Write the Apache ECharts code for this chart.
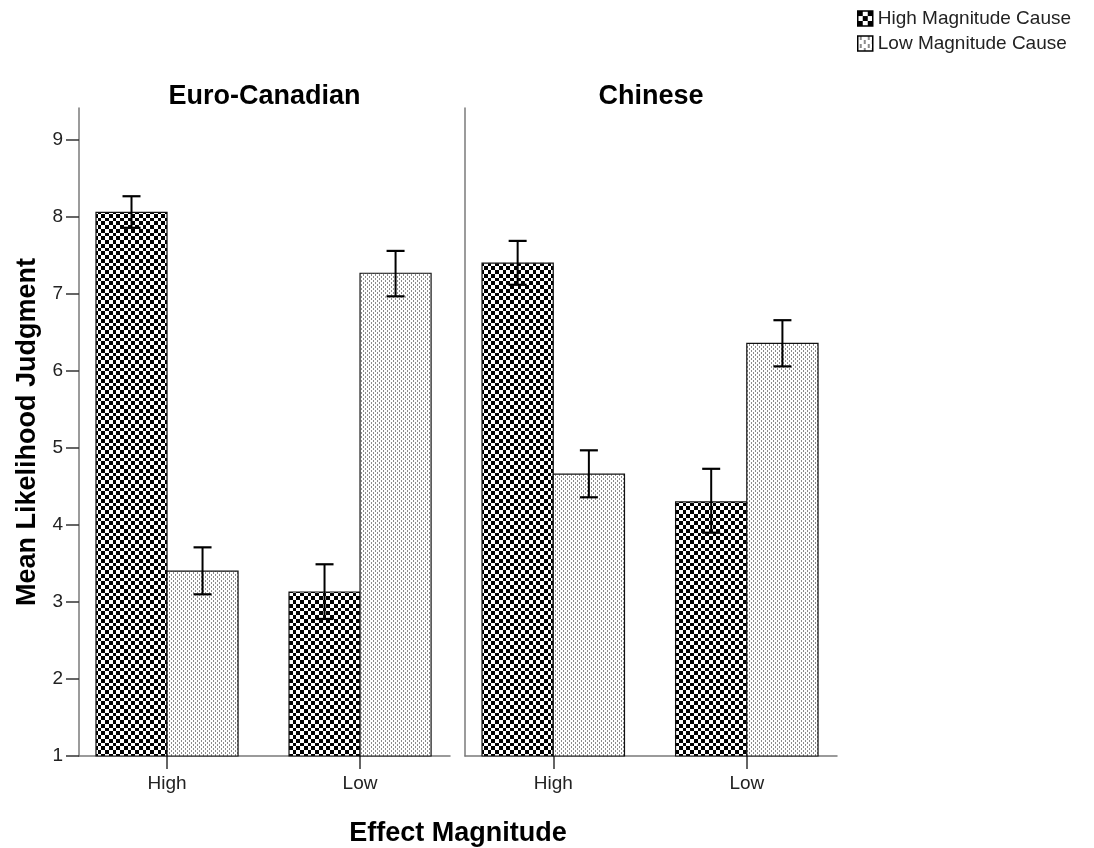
<!DOCTYPE html>
<html>
<head>
<meta charset="utf-8">
<script src="https://cdn.jsdelivr.net/npm/echarts@6/dist/echarts.min.js"></script>
<style>
  html, body { margin: 0; padding: 0; background: #fff; }
  #chart { width: 1094px; height: 848px; }
</style>
</head>
<body>
<div id="chart"></div>
<script>
// Panels (culture groups) and effect-magnitude categories
const panels = ['Euro-Canadian', 'Chinese'];
const effectLevels = ['High', 'Low'];
const causeNames = ['High Magnitude Cause', 'Low Magnitude Cause'];

// Means and error-bar limits, indexed [panel][effect level]
const highCauseMean  = [[8.06, 3.13], [7.40, 4.30]];
const highCauseLower = [[7.86, 2.78], [7.12, 3.90]];
const highCauseUpper = [[8.27, 3.49], [7.69, 4.73]];
const lowCauseMean   = [[3.40, 7.27], [4.66, 6.36]];
const lowCauseLower  = [[3.10, 6.97], [4.36, 6.06]];
const lowCauseUpper  = [[3.71, 7.56], [4.97, 6.66]];

const yTicks = [1, 2, 3, 4, 5, 6, 7, 8, 9];

const FONT = '"Liberation Sans", Arial, Helvetica, sans-serif';

// Fill patterns
function checkerCanvas(bounds) {
  const n = bounds[bounds.length - 1];
  const c = document.createElement('canvas');
  c.width = n; c.height = n;
  const g = c.getContext('2d');
  g.fillStyle = '#fff'; g.fillRect(0, 0, n, n);
  g.fillStyle = '#000';
  for (let i = 0; i < bounds.length - 1; i++) {
    for (let j = 0; j < bounds.length - 1; j++) {
      if ((i + j) % 2 === 0) {
        g.fillRect(bounds[i], bounds[j], bounds[i + 1] - bounds[i], bounds[j + 1] - bounds[j]);
      }
    }
  }
  return c;
}
function stippleCanvas(scale) {
  const n = 4 * scale;
  const c = document.createElement('canvas');
  c.width = n; c.height = n;
  const g = c.getContext('2d');
  g.fillStyle = '#fff'; g.fillRect(0, 0, n, n);
  g.fillStyle = '#8c8c8c';
  g.fillRect(1 * scale, 0, scale, 2 * scale);
  g.fillRect(3 * scale, 2 * scale, scale, 2 * scale);
  return c;
}
const checkerFill = { image: checkerCanvas([0, 4, 8, 11, 15]), repeat: 'repeat' };
const stippleFill = { image: stippleCanvas(1), repeat: 'repeat' };
const checkerIcon = { image: checkerCanvas([0, 5, 10, 15]), repeat: 'repeat' };
const stippleIcon = { image: stippleCanvas(2), repeat: 'repeat' };

const BAR_W = 0.368;   // bar width in category units
const CAP_HALF = 9;    // error-bar cap half width, px

function makeRenderer(side, fill) {
  return function (params, api) {
    const x = api.value(0);
    const mean = api.value(1);
    const lo = api.value(2);
    const hi = api.value(3);
    const x0 = side < 0 ? x - BAR_W : x;
    const x1 = side < 0 ? x : x + BAR_W;
    const pTop = api.coord([x0, mean]);
    const pBot = api.coord([x1, 1]);
    const cx = api.coord([(x0 + x1) / 2, mean])[0];
    const yLo = api.coord([x, lo])[1];
    const yHi = api.coord([x, hi])[1];
    return {
      type: 'group',
      children: [
        {
          type: 'rect',
          shape: { x: pTop[0], y: pTop[1], width: pBot[0] - pTop[0], height: pBot[1] - pTop[1] },
          style: { fill: fill, stroke: '#111', lineWidth: 1.2 }
        },
        { type: 'line', shape: { x1: cx, y1: yLo, x2: cx, y2: yHi }, style: { stroke: '#000', lineWidth: 2 } },
        { type: 'line', shape: { x1: cx - CAP_HALF, y1: yHi, x2: cx + CAP_HALF, y2: yHi }, style: { stroke: '#000', lineWidth: 2.2 } },
        { type: 'line', shape: { x1: cx - CAP_HALF, y1: yLo, x2: cx + CAP_HALF, y2: yLo }, style: { stroke: '#000', lineWidth: 2.2 } }
      ]
    };
  };
}

function seriesData(means, lows, highs, p) {
  return effectLevels.map((e, i) => [i, means[p][i], lows[p][i], highs[p][i]]);
}

const series = [];
panels.forEach((name, p) => {
  series.push({
    name: causeNames[0], type: 'custom', xAxisIndex: p, yAxisIndex: p,
    itemStyle: { color: checkerFill },
    renderItem: makeRenderer(-1, checkerFill),
    data: seriesData(highCauseMean, highCauseLower, highCauseUpper, p)
  });
  series.push({
    name: causeNames[1], type: 'custom', xAxisIndex: p, yAxisIndex: p,
    itemStyle: { color: stippleFill },
    renderItem: makeRenderer(1, stippleFill),
    data: seriesData(lowCauseMean, lowCauseLower, lowCauseUpper, p)
  });
});

const GRID_TOP = 108, GRID_H = 648;
const grids = [
  { left: 79, top: GRID_TOP, width: 371, height: GRID_H },
  { left: 465, top: GRID_TOP, width: 372, height: GRID_H }
];

const xAxes = panels.map((_, p) => ({
  type: 'value', gridIndex: p, min: -0.456, max: 1.466,
  axisLine: { show: true, onZero: false, lineStyle: { color: '#7a7a7a', width: 1.5 } },
  axisTick: { show: true, customValues: [0, 1], length: 13, lineStyle: { color: '#333', width: 1.5 } },
  axisLabel: {
    customValues: [0, 1], margin: 18,
    formatter: v => effectLevels[Math.round(v)],
    color: '#222', fontSize: 19, fontFamily: FONT
  },
  splitLine: { show: false }
}));

const yAxes = panels.map((_, p) => ({
  type: 'value', gridIndex: p, min: 1, max: 9.416,
  name: p === 0 ? 'Mean Likelihood Judgment' : '',
  nameLocation: 'middle', nameGap: 38,
  nameTextStyle: { fontSize: 27, fontWeight: 'bold', color: '#000', fontFamily: FONT },
  axisLine: { show: true, onZero: false, lineStyle: { color: '#7a7a7a', width: 1.5 } },
  axisTick: { show: p === 0, customValues: yTicks, length: 13, lineStyle: { color: '#333', width: 1.5 } },
  axisLabel: {
    show: p === 0, customValues: yTicks, margin: 16,
    color: '#222', fontSize: 19, fontFamily: FONT
  },
  splitLine: { show: false }
}));

const chart = echarts.init(document.getElementById('chart'), null, { renderer: 'canvas' });
chart.setOption({
  animation: false,
  backgroundColor: '#fff',
  grid: grids,
  xAxis: xAxes,
  yAxis: yAxes,
  legend: {
    orient: 'vertical', left: 857, top: 9, padding: 0,
    itemWidth: 15, itemHeight: 15, itemGap: 6,
    icon: 'rect',
    selectedMode: false,
    textStyle: { fontSize: 19, color: '#222', fontFamily: FONT },
    data: [
      { name: causeNames[0], itemStyle: { color: checkerIcon, borderColor: '#000', borderWidth: 1.5 } },
      { name: causeNames[1], itemStyle: { color: stippleIcon, borderColor: '#000', borderWidth: 1.5 } }
    ]
  },
  graphic: [
    {
      type: 'text', x: 79 + 371 / 2, y: 97,
      style: { text: panels[0], fill: '#000', font: 'bold 27px ' + FONT, textAlign: 'center', textVerticalAlign: 'middle' }
    },
    {
      type: 'text', x: 465 + 372 / 2, y: 97,
      style: { text: panels[1], fill: '#000', font: 'bold 27px ' + FONT, textAlign: 'center', textVerticalAlign: 'middle' }
    },
    {
      type: 'text', x: 458, y: 834,
      style: { text: 'Effect Magnitude', fill: '#000', font: 'bold 27px ' + FONT, textAlign: 'center', textVerticalAlign: 'middle' }
    }
  ],
  series: series
});
</script>
</body>
</html>
